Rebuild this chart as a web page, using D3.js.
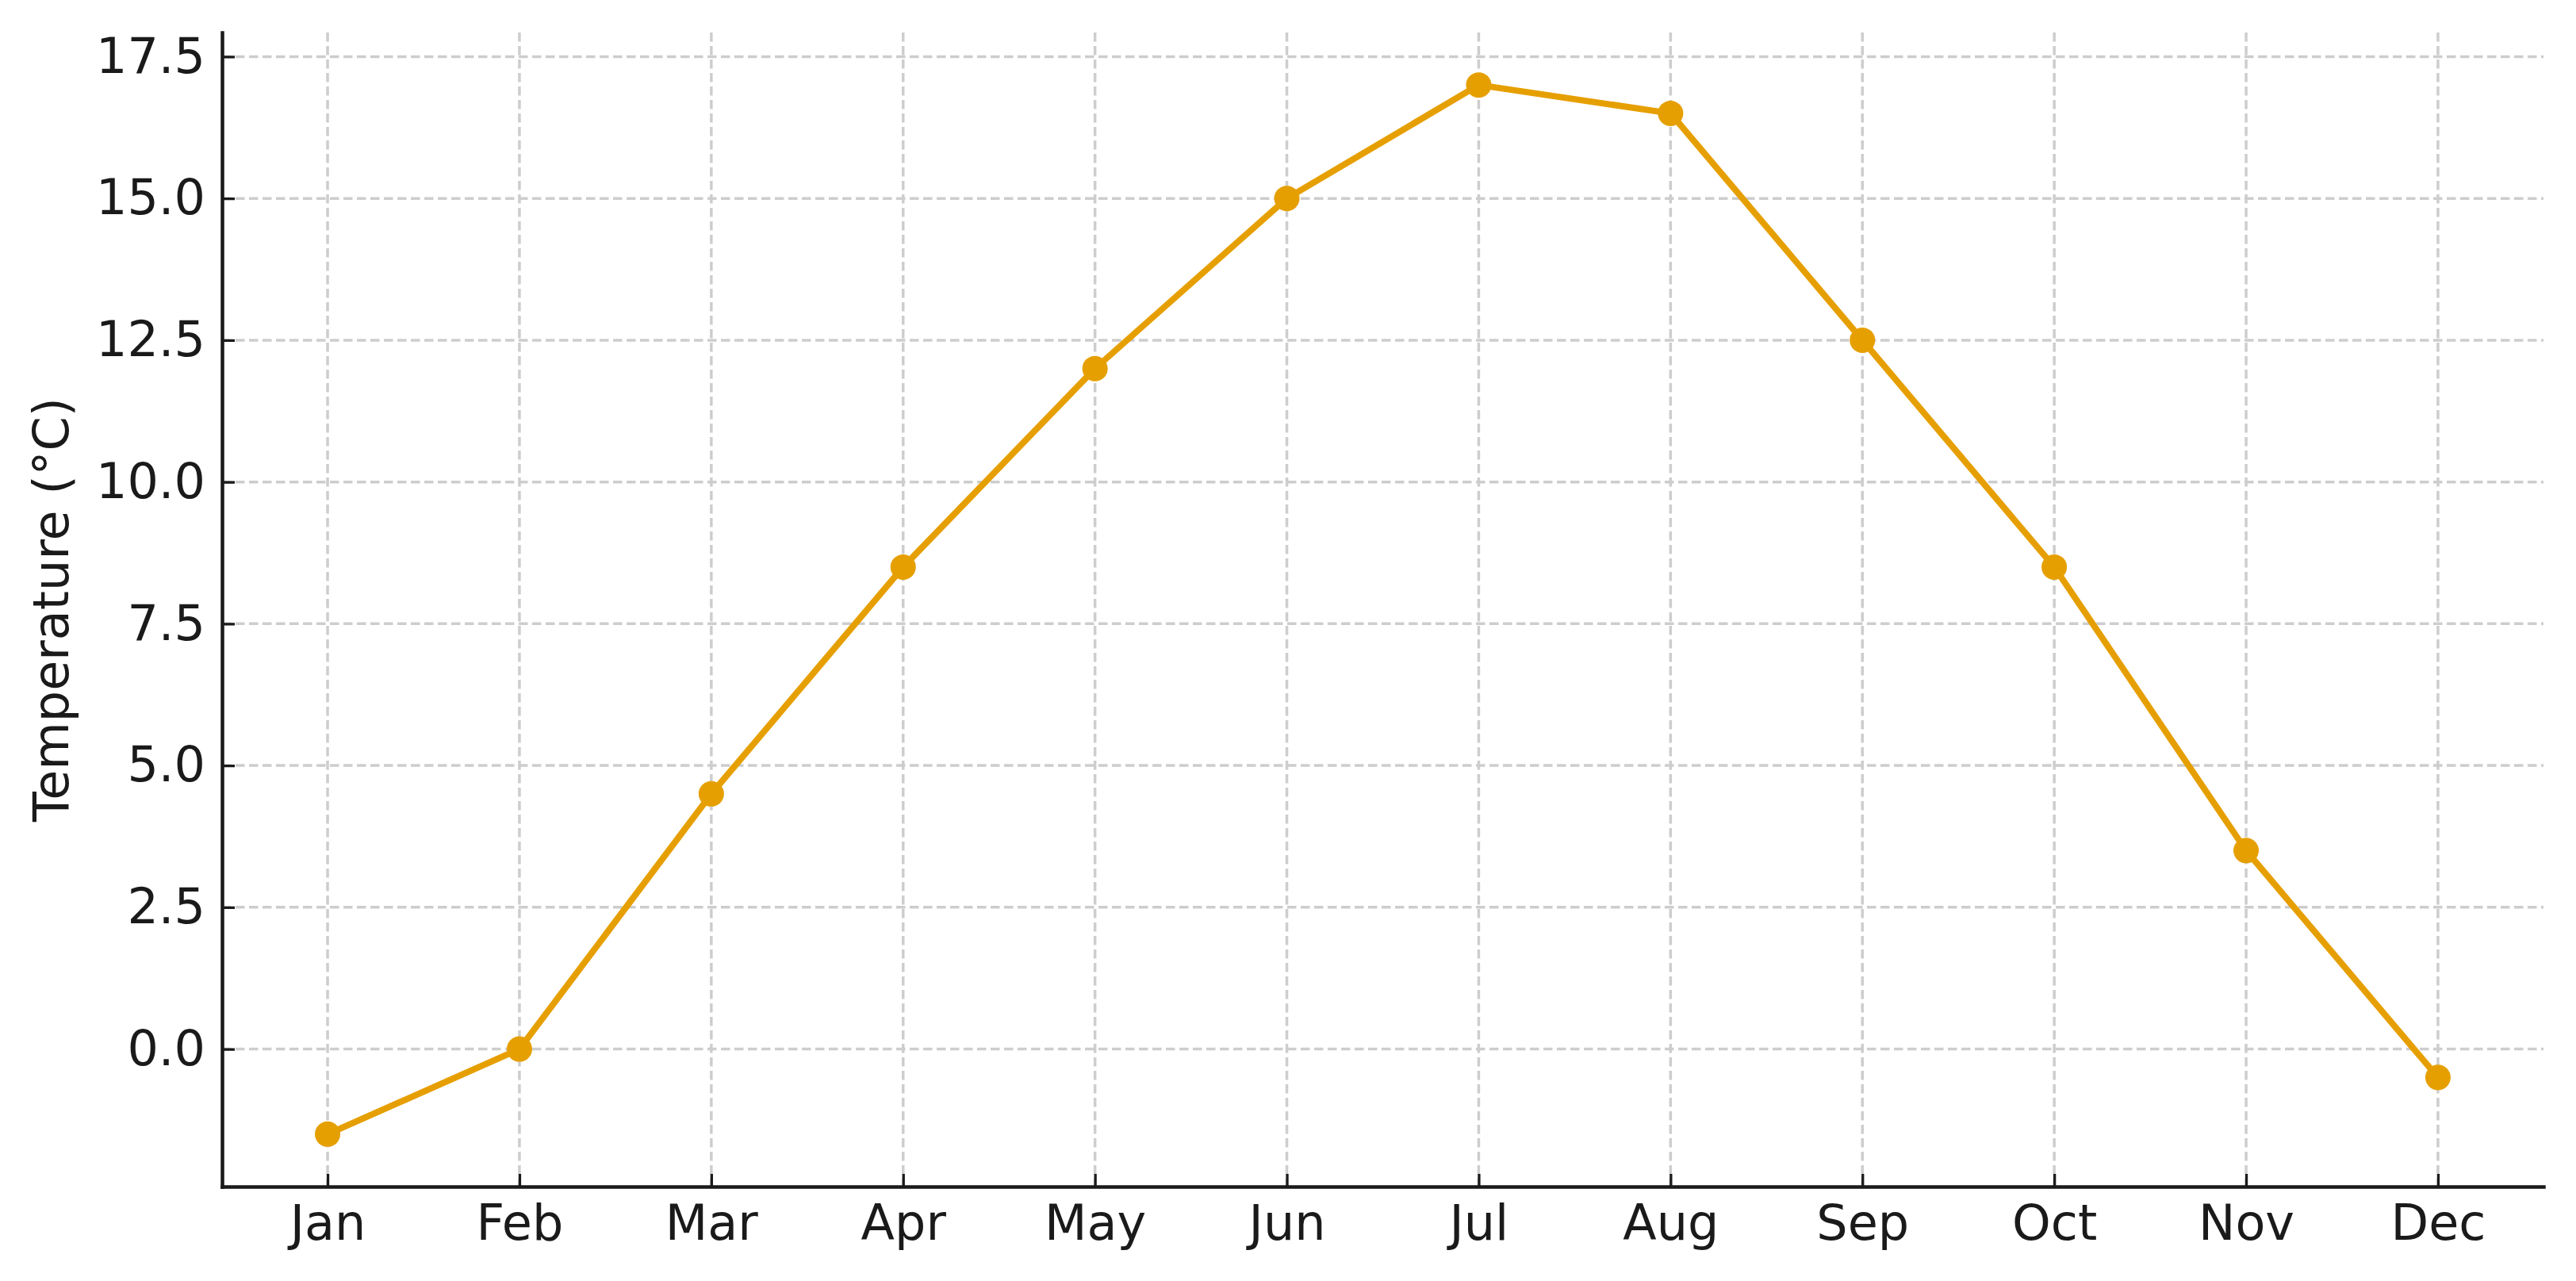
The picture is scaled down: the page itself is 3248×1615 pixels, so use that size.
<!DOCTYPE html>
<html>
<head>
<meta charset="utf-8">
<script src="https://cdn.jsdelivr.net/npm/d3@7"></script>
<style>
  body { margin: 0; background: #fff; }
  svg { display: block; }
</style>
</head>
<body>
<div id="chart"></div>
<script>
  const months = ["Jan", "Feb", "Mar", "Apr", "May", "Jun", "Jul", "Aug", "Sep", "Oct", "Nov", "Dec"];
  const temps = [-1.5, 0, 4.5, 8.5, 12, 15, 17, 16.5, 12.5, 8.5, 3.5, -0.5];
  const yTicks = [0, 2.5, 5, 7.5, 10, 12.5, 15, 17.5];

  const width = 3248,
    height = 1615;
  const margin = { top: 41, right: 41, bottom: 119, left: 280 };
  const fontSize = 62;
  const ink = "#1a1a1a";
  const lineColor = "#E69F00";

  const svg = d3
    .select("#chart")
    .append("svg")
    .attr("width", width)
    .attr("height", height)
    .attr("font-family", "DejaVu Sans")
    .attr("font-size", fontSize);

  svg.append("rect").attr("width", width).attr("height", height).attr("fill", "#fff");

  // matplotlib-style 5% padding on both axes
  const x = d3
    .scaleLinear()
    .domain([-0.55, months.length - 1 + 0.55])
    .range([margin.left, width - margin.right]);

  const yMin = d3.min(temps),
    yMax = d3.max(temps),
    pad = (yMax - yMin) * 0.05;
  const y = d3
    .scaleLinear()
    .domain([yMin - pad, yMax + pad])
    .range([height - margin.bottom, margin.top]);

  // grid
  const grid = svg
    .append("g")
    .attr("stroke", "#cdcdcd")
    .attr("stroke-width", 3.5)
    .attr("stroke-dasharray", "11.5,5.5");

  grid
    .selectAll("line.v")
    .data(months)
    .join("line")
    .attr("class", "v")
    .attr("x1", (d, i) => x(i))
    .attr("x2", (d, i) => x(i))
    .attr("y1", y.range()[1])
    .attr("y2", y.range()[0]);

  grid
    .selectAll("line.h")
    .data(yTicks)
    .join("line")
    .attr("class", "h")
    .attr("x1", x.range()[0])
    .attr("x2", x.range()[1])
    .attr("y1", (d) => y(d))
    .attr("y2", (d) => y(d));

  // axes
  const xAxis = svg
    .append("g")
    .attr("transform", `translate(0,${height - margin.bottom})`)
    .call(
      d3
        .axisBottom(x)
        .tickValues(d3.range(months.length))
        .tickFormat((i) => months[i])
        .tickSizeInner(-16)
        .tickSizeOuter(0)
        .tickPadding(23)
    );

  const yAxis = svg
    .append("g")
    .attr("transform", `translate(${margin.left},0)`)
    .call(
      d3
        .axisLeft(y)
        .tickValues(yTicks)
        .tickFormat(d3.format(".1f"))
        .tickSizeInner(-16)
        .tickSizeOuter(0)
        .tickPadding(21)
    );

  [xAxis, yAxis].forEach((g) => {
    g.attr("font-family", "DejaVu Sans").attr("font-size", fontSize).attr("color", ink);
    g.select(".domain").attr("stroke-width", 4.5).attr("stroke-linecap", "square");
    g.selectAll(".tick line").attr("stroke-width", 3.3);
    g.selectAll(".tick text").attr("fill", ink);
  });

  // y label
  svg
    .append("text")
    .attr("transform", `translate(86,${(y.range()[0] + y.range()[1]) / 2}) rotate(-90)`)
    .attr("text-anchor", "middle")
    .attr("fill", ink)
    .text("Temperature (°C)");

  // series
  const line = d3
    .line()
    .x((d, i) => x(i))
    .y((d) => y(d));

  svg
    .append("path")
    .datum(temps)
    .attr("fill", "none")
    .attr("stroke", lineColor)
    .attr("stroke-width", 8)
    .attr("stroke-linejoin", "round")
    .attr("d", line);

  svg
    .append("g")
    .attr("fill", lineColor)
    .selectAll("circle")
    .data(temps)
    .join("circle")
    .attr("cx", (d, i) => x(i))
    .attr("cy", (d) => y(d))
    .attr("r", 16);
</script>
</body>
</html>
